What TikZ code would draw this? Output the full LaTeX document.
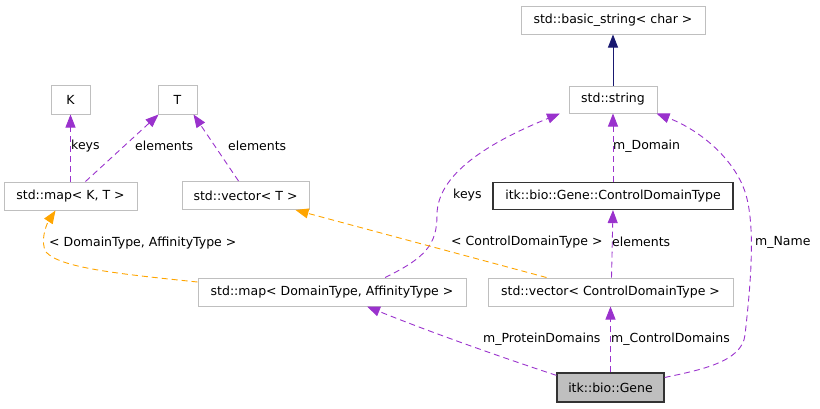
\documentclass[tikz,border=0pt]{standalone}
\usepackage{fontspec}
\setmainfont{DejaVu Sans}
\usetikzlibrary{arrows.meta}
\definecolor{boxgray}{HTML}{BFBFBF}
\definecolor{edgepurple}{HTML}{9A32CD}
\definecolor{edgeorange}{HTML}{FFA500}
\definecolor{edgenavy}{HTML}{191970}
\definecolor{genefill}{HTML}{BFBFBF}
\tikzset{
  cls/.style={draw=boxgray, line width=1pt, inner sep=0pt, minimum height=28pt, font=\fontsize{12.5}{14}\selectfont},
  clsdark/.style={cls, draw=black!80, line width=1.2pt},
  lbl/.style={inner sep=0pt, anchor=west, font=\fontsize{12.5}{14}\selectfont},
  tip/.style={-{Triangle[length=13pt,width=10pt]}},
  usedby/.style={tip, draw=edgepurple, line width=0.9pt, dash pattern=on 6pt off 4pt},
  templ/.style={tip, draw=edgeorange, line width=0.9pt, dash pattern=on 6pt off 4pt},
  inherit/.style={tip, draw=edgenavy, line width=0.9pt}
}
\begin{document}
\begin{tikzpicture}[x=1pt,y=-1pt]
\useasboundingbox (0,0) rectangle (820,408);
% nodes
\node[cls, minimum width=184pt] (bs) at (613,20) {std::basic\_string< char >};
\node[cls, minimum width=88pt, minimum height=27pt] (str) at (613,99.5) {std::string};
\node[clsdark, minimum width=240pt, minimum height=27pt] (cdt) at (613,196) {itk::bio::Gene::ControlDomainType};
\node[cls, minimum width=245pt] (vcdt) at (610.5,292) {std::vector< ControlDomainType >};
\node[clsdark, fill=genefill, minimum width=107pt, minimum height=29pt] (gene) at (610.5,387.5) {itk::bio::Gene};
\node[cls, minimum width=268pt] (mdt) at (332,292) {std::map< DomainType, AffinityType >};
\node[cls, minimum width=127pt] (vt) at (245.5,195.5) {std::vector< T >};
\node[cls, minimum width=133pt] (mkt) at (70.5,196) {std::map< K, T >};
\node[cls, minimum width=39pt, minimum height=29pt] (K) at (70.5,99.5) {K};
\node[cls, minimum width=39pt, minimum height=29pt] (T) at (177.5,99.5) {T};
% edges
\draw[inherit] (str.north) -- (bs.south);
\draw[usedby] (cdt.north) -- (str.south);
\draw[usedby] ([xshift=1pt]vcdt.north) -- (cdt.south);
\draw[usedby] (gene.north) -- (vcdt.south);
\draw[usedby] ([yshift=-3pt]gene.north west) .. controls (480,350) and (420,328) .. ([xshift=35pt]mdt.south);
\draw[usedby] ([yshift=10pt]gene.east) .. controls (700,370) and (742,362) .. (745,335)
  .. controls (750,290) and (756,230) .. (746,195)
  .. controls (736,160) and (700,130) .. ([xshift=-1pt]str.south east);
\draw[usedby] ([xshift=53pt]mdt.north) .. controls (425,258) and (437,245) .. (437,215)
  .. controls (437,170) and (500,138) .. ([xshift=-53pt]str.south);
\draw[templ] ([yshift=10pt]mdt.west) .. controls (120,274) and (60,268) .. (46,252)
  .. controls (40,242) and (46,225) .. ([xshift=-15pt]mkt.south);
\draw[templ] ([xshift=-64pt]vcdt.north) -- ([xshift=50pt]vt.south);
\draw[usedby] (mkt.north) -- (K.south);
\draw[usedby] ([xshift=15pt]mkt.north) -- ([xshift=1pt]T.south west);
\draw[usedby] ([xshift=-7pt]vt.north) -- ([xshift=-4pt]T.south east);
% labels
\node[lbl] (l1) at (71,146) {keys};
\node[lbl] (l2) at (135,146) {elements};
\node[lbl] (l3) at (228,146) {elements};
\node[lbl] (l4) at (613,146) {m\_Domain};
\node[lbl] (l5) at (453,195) {keys};
\node[lbl] (l6) at (49,243) {< DomainType, AffinityType >};
\node[lbl] (l7) at (451,242) {< ControlDomainType >};
\node[lbl] (l8) at (612,242) {elements};
\node[lbl] (l9) at (755,242) {m\_Name};
\node[lbl] (l10) at (483,339) {m\_ProteinDomains};
\node[lbl] (l11) at (611,339) {m\_ControlDomains};
\end{tikzpicture}
\end{document}
